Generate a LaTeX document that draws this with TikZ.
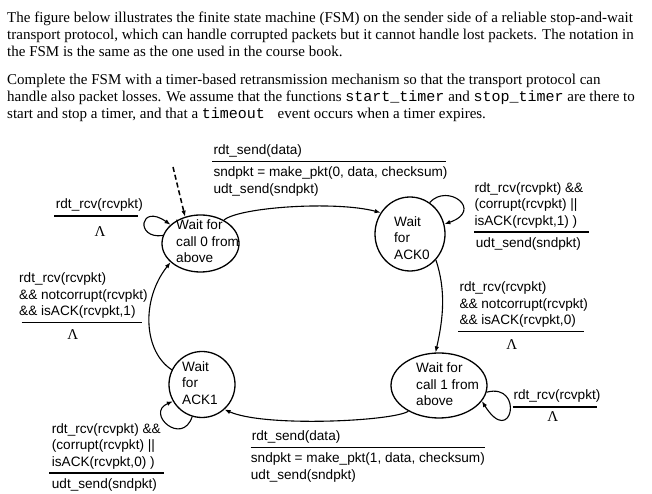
\documentclass[tikz,border=0pt]{standalone}
\usepackage{fontspec}
\setmainfont{Liberation Serif}
\setmonofont{Liberation Mono}
\newfontfamily\arialfont{Liberation Sans}
\usepackage{tikz}
\usetikzlibrary{arrows.meta,shapes.geometric}
\newcommand{\fsmfont}{\arialfont\fontsize{13.6}{16.4}\selectfont}
\newcommand{\bodyfont}{\fontsize{15}{17}\selectfont}
\tikzset{
  state/.style={ellipse, draw=black, line width=1.3pt, inner sep=0pt},
  stext/.style={align=left, inner sep=0pt, anchor=west, font=\fsmfont},
  guard/.style={align=left, inner sep=0pt, font=\fsmfont},
  lam/.style={inner sep=0pt, font=\fontsize{15}{15}\selectfont},
  bar/.style={line width=1.6pt},
  trans/.style={-{Latex[length=6pt,width=4.5pt]}, line width=1.1pt},
  initarrow/.style={-{Latex[length=6pt,width=4.5pt]}, line width=1.5pt, dash pattern=on 5pt off 3pt}
}

\begin{document}
\begin{tikzpicture}[x=1pt,y=1pt]
  \useasboundingbox (0,0) rectangle (652,494);
  \node[anchor=north west, align=left, inner sep=0pt, font=\bodyfont] (intro) at (7,482.5) {The figure below illustrates the finite state machine (FSM) on the sender side of a reliable stop-and-wait\\transport protocol, which can handle corrupted packets but it cannot handle lost packets. The notation in\\the FSM is the same as the one used in the course book.};
  \node[anchor=north west, align=left, inner sep=0pt, font=\bodyfont] (task) at (7,420.5) {Complete the FSM with a timer-based retransmission mechanism so that the transport protocol can\\handle also packet losses. We assume that the functions \texttt{start\_timer} and \texttt{stop\_timer} are there to\\start and stop a timer, and that a \texttt{timeout }\ event occurs when a timer expires.};

  \node[state, minimum width=77, minimum height=57] (call0) at (200.5,250.5) {};
  \node[stext] (call0txt) at (176,252.5) {Wait for\\call 0 from\\above};
  \node[state, minimum width=70, minimum height=74] (ack0) at (410,260) {};
  \node[stext] (ack0txt) at (394,256) {Wait\\for\\ACK0};
  \node[state, minimum width=96, minimum height=65] (call1) at (439,108.5) {};
  \node[stext] (call1txt) at (416,109.5) {Wait for\\call 1 from\\above};
  \node[state, minimum width=66, minimum height=66] (ack1) at (202,109.5) {};
  \node[stext] (ack1txt) at (182,111) {Wait\\for\\ACK1};

  \coordinate (init) at (173,327);
  \draw[initarrow] (init) -- (call0.120);
  \draw[trans] (call0.168) .. controls +(-28,-4) and +(-31,22) .. (call0.148);
  \draw[trans] (call0.45) .. controls +(15,13) and +(-45,12) .. (ack0.144);
  \draw[trans] (ack0.58) .. controls +(18,20) and +(40,14) .. (ack0.16);
  \draw[trans] (ack0.-45) .. controls +(10,-30) and +(8,35) .. (call1.96);
  \draw[trans] (call1.-8) .. controls +(38,10) and +(30,-48) .. (call1.-20);
  \draw[trans] (call1.220) .. controls +(-15,-10) and +(40,-18) .. (ack1.-48);
  \draw[trans] (ack1.253) .. controls +(-10,-30) and +(-28,-12) .. (ack1.210);
  \draw[trans] (ack1.154) .. controls +(-28,18) and +(-30,-38) .. (call0.212);

  \node[guard, anchor=south west] (ev1) at (213.3,336.3) {rdt\_send(data)};
  \draw[bar] (212.3,332.3) -- (446,332.3);
  \node[guard, anchor=north west] (ac1) at (213.3,327.3) {sndpkt = make\_pkt(0, data, checksum)\\udt\_send(sndpkt)};

  \node[guard, anchor=south west] (ev2) at (55.7,282) {rdt\_rcv(rcvpkt)};
  \draw[bar] (54.3,278) -- (138.3,278);
  \node[lam] (lam2) at (100,262.3) {Λ};

  \node[guard, anchor=south west] (ev3) at (19,175.3) {rdt\_rcv(rcvpkt)\\\&\& notcorrupt(rcvpkt)\\\&\& isACK(rcvpkt,1)};
  \draw[bar] (21.7,171.3) -- (141.7,171.3);
  \node[lam] (lam3) at (72.7,159) {Λ};

  \node[guard, anchor=south west] (ev4) at (474.3,265.7) {rdt\_rcv(rcvpkt) \&\&\\(corrupt(rcvpkt) ||\\isACK(rcvpkt,1) )};
  \draw[bar] (474.3,261.7) -- (589.3,261.7);
  \node[guard, anchor=north west] (ac4) at (475.7,256.7) {udt\_send(sndpkt)};

  \node[guard, anchor=south west] (ev5) at (459.3,166.3) {rdt\_rcv(rcvpkt)\\\&\& notcorrupt(rcvpkt)\\\&\& isACK(rcvpkt,0)};
  \draw[bar] (458.3,162.3) -- (584,162.3);
  \node[lam] (lam5) at (511.7,149) {Λ};

  \node[guard, anchor=south west] (ev6) at (513.3,91) {rdt\_rcv(rcvpkt)};
  \draw[bar] (512.7,87) -- (596.7,87);
  \node[lam] (lam6) at (552.7,77.3) {Λ};

  \node[guard, anchor=south west] (ev7) at (251.7,50.3) {rdt\_send(data)};
  \draw[bar] (250.7,46.3) -- (485,46.3);
  \node[guard, anchor=north west] (ac7) at (250.7,41.3) {sndpkt = make\_pkt(1, data, checksum)\\udt\_send(sndpkt)};

  \node[guard, anchor=south west] (ev8) at (51.7,24.7) {rdt\_rcv(rcvpkt) \&\&\\(corrupt(rcvpkt) ||\\isACK(rcvpkt,0) )};
  \draw[bar] (49.3,20.7) -- (164,20.7);
  \node[guard, anchor=north west] (ac8) at (51.7,15.7) {udt\_send(sndpkt)};
\end{tikzpicture}
\end{document}
